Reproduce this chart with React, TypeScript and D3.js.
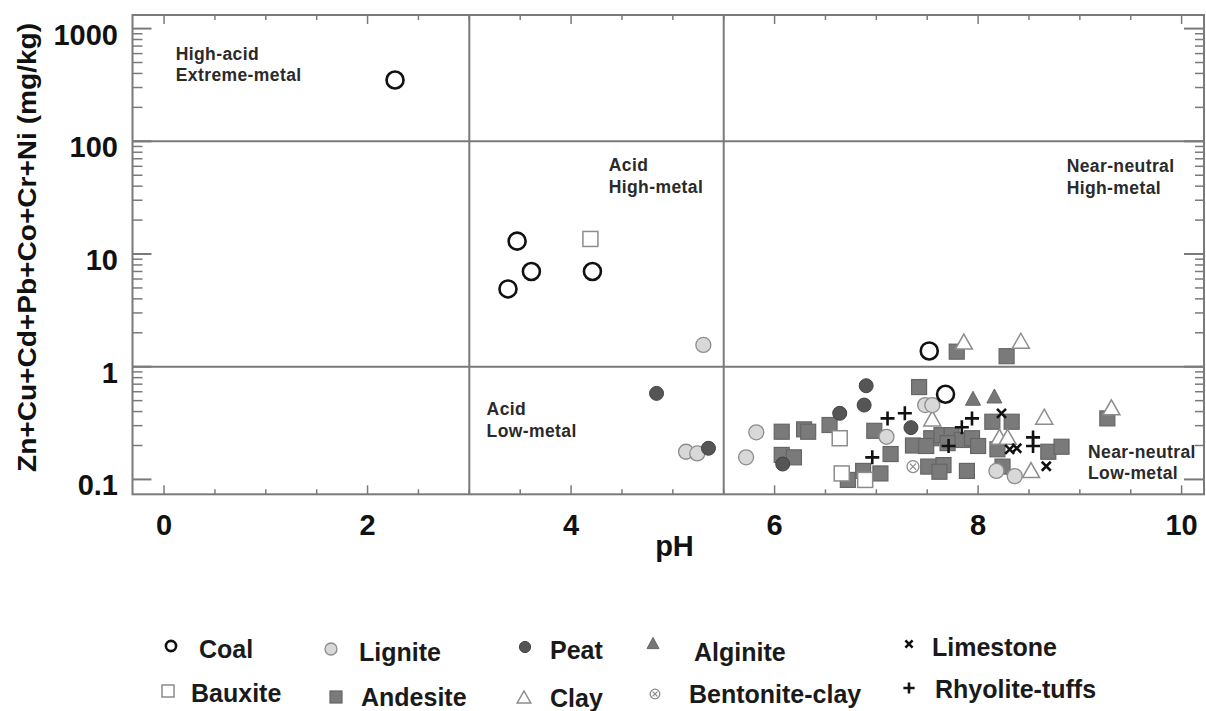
import React from "react";
import * as d3 from "d3";

// [pH, Zn+Cu+Cd+Pb+Co+Cr+Ni mg/kg]
const coal = [[2.27, 350], [3.47, 13.0], [3.61, 7.0], [3.38, 4.9], [4.21, 7.0], [7.52, 1.38], [7.68, 0.57]];
const bauxite = [[4.19, 13.6], [6.64, 0.232], [6.66, 0.113], [6.89, 0.099]];
const lignite = [
  [5.3, 1.56], [5.13, 0.176], [5.24, 0.17], [5.82, 0.262], [5.72, 0.157], [7.1, 0.239],
  [7.48, 0.457], [7.55, 0.457], [8.18, 0.119], [8.36, 0.107],
];
const peat = [[4.84, 0.58], [5.35, 0.189], [6.08, 0.137], [6.64, 0.386], [6.88, 0.457], [6.9, 0.678], [7.34, 0.288]];
const alginite = [[7.95, 0.525], [8.16, 0.55]];
const limestone = [[8.23, 0.386], [8.31, 0.185], [8.38, 0.189], [8.67, 0.131]];
const rhyolite = [
  [6.96, 0.157], [7.11, 0.348], [7.28, 0.386], [7.71, 0.198], [7.84, 0.29], [7.94, 0.348],
  [8.54, 0.236], [8.54, 0.198],
];
const bentonite = [[7.36, 0.13]];
const clay = [
  [7.86, 1.67], [8.42, 1.7], [7.55, 0.348], [8.65, 0.36], [8.21, 0.239], [8.29, 0.239],
  [8.52, 0.121], [9.31, 0.436],
];
const andesite = [
  [6.07, 0.265], [6.29, 0.278], [6.33, 0.265], [6.07, 0.165], [6.19, 0.157], [6.54, 0.304],
  [6.98, 0.27], [7.14, 0.168], [7.36, 0.2], [6.72, 0.099], [6.87, 0.119], [7.04, 0.113],
  [7.42, 0.66], [7.79, 1.36], [8.28, 1.24], [8.14, 0.325], [8.33, 0.325], [7.54, 0.232],
  [7.64, 0.247], [7.74, 0.247], [7.84, 0.224], [7.94, 0.232], [8.0, 0.198], [7.49, 0.198],
  [7.7, 0.21], [8.19, 0.185], [8.69, 0.176], [8.82, 0.195], [7.51, 0.13], [7.66, 0.134],
  [7.62, 0.117], [7.89, 0.119], [8.24, 0.13], [9.27, 0.348],
];

const quadrantLabels = [
  { lines: ["High-acid", "Extreme-metal"], ph: 0.115, v: 527 },
  { lines: ["Acid", "High-metal"], ph: 4.37, v: 54 },
  { lines: ["Acid", "Low-metal"], ph: 3.17, v: 0.37 },
  { lines: ["Near-neutral", "High-metal"], ph: 8.87, v: 53 },
  { lines: ["Near-neutral", "Low-metal"], ph: 9.08, v: 0.155 },
];

const xTicks = d3.range(0, 10.01, 0.5);
const xLabels = [0, 2, 4, 6, 8, 10];
const yLabels = [0.1, 1, 10, 100, 1000];

// drawing order (back to front)
const series = [
  { kind: "Andesite", data: andesite },
  { kind: "Bauxite", data: bauxite },
  { kind: "Clay", data: clay },
  { kind: "Lignite", data: lignite },
  { kind: "Peat", data: peat },
  { kind: "Alginite", data: alginite },
  { kind: "Bentonite-clay", data: bentonite },
  { kind: "Coal", data: coal },
  { kind: "Limestone", data: limestone },
  { kind: "Rhyolite-tuffs", data: rhyolite },
];

const legendRows = [
  ["Coal", "Lignite", "Peat", "Alginite", "Limestone"],
  ["Bauxite", "Andesite", "Clay", "Bentonite-clay", "Rhyolite-tuffs"],
];
// legend layout: marker x/y, text x/baseline
const legendPos = {
  Coal: [171, 646, 199, 658], Lignite: [331, 649, 359, 661], Peat: [525, 647, 550, 659],
  Alginite: [653, 643, 694, 661], Limestone: [909, 644, 932, 656],
  Bauxite: [168, 691, 191, 702], Andesite: [336, 697, 361, 706], Clay: [524, 697, 550, 707],
  "Bentonite-clay": [655, 694, 689, 703], "Rhyolite-tuffs": [909, 688, 935, 698],
};

const FONT = "'Liberation Sans', Arial, Helvetica, sans-serif";
const AX = "#7a7a7a";

function Marker({ kind, x, y, s = 1 }) {
  const g = "#8c8c8c";
  switch (kind) {
    case "Coal":
      return <circle cx={x} cy={y} r={8.5 * s} fill="#fff" stroke="#111" strokeWidth={2.6} />;
    case "Lignite":
      return <circle cx={x} cy={y} r={7.5 * s} fill="#d8d8d8" stroke={g} strokeWidth={1.3} />;
    case "Peat":
      return <circle cx={x} cy={y} r={7 * s} fill="#555" stroke="#444" strokeWidth={1} />;
    case "Alginite": {
      const w = 7.5 * s, h = 14 * s;
      return <path d={`M${x},${y - h / 2}L${x + w},${y + h / 2}L${x - w},${y + h / 2}Z`} fill="#777" stroke="#666" strokeWidth={1} />;
    }
    case "Clay": {
      const w = 8.5 * s, h = 15 * s;
      return <path d={`M${x},${y - h / 2}L${x + w},${y + h / 2}L${x - w},${y + h / 2}Z`} fill="#fff" stroke={g} strokeWidth={1.5} />;
    }
    case "Bauxite":
      return <rect x={x - 7.5 * s} y={y - 7.5 * s} width={15 * s} height={15 * s} fill="#fff" stroke={g} strokeWidth={1.5} />;
    case "Andesite":
      return <rect x={x - 7.5 * s} y={y - 7.5 * s} width={15 * s} height={15 * s} fill="#7a7a7a" stroke="#666" strokeWidth={1.2} />;
    case "Limestone": {
      const a = 4.5 * s;
      return <path d={`M${x - a},${y - a}L${x + a},${y + a}M${x - a},${y + a}L${x + a},${y - a}`} stroke="#111" strokeWidth={2.6} />;
    }
    case "Rhyolite-tuffs": {
      const a = 7 * s;
      return <path d={`M${x - a},${y}L${x + a},${y}M${x},${y - a}L${x},${y + a}`} stroke="#111" strokeWidth={2.6} />;
    }
    case "Bentonite-clay": {
      const r = 6 * s, a = 3 * s;
      return (
        <g stroke={g} strokeWidth={1.3} fill="#fff">
          <circle cx={x} cy={y} r={r} />
          <path d={`M${x - a},${y - a}L${x + a},${y + a}M${x - a},${y + a}L${x + a},${y - a}`} />
        </g>
      );
    }
    default:
      return null;
  }
}

export default function App() {
  const x = d3.scaleLinear().domain([-0.31, 10.22]).range([132.5, 1204]);
  const y = d3.scaleLog().domain([0.0738, 1320]).range([494.3, 15]);
  const [x0, x1] = x.range();
  const [y0, y1] = y.range();

  const minorY = [];
  for (let e = -1; e < 3; e++) for (let k = 2; k <= 9; k++) minorY.push(k * Math.pow(10, e));

  return (
    <svg width={1206} height={711} style={{ position: "absolute", left: 0, top: 0, display: "block" }} fontFamily={FONT}>
      <rect width={1206} height={711} fill="#fff" />

      {/* quadrant dividers */}
      <g stroke={AX} strokeWidth={2}>
        {[3, 5.5].map((p) => <line key={p} x1={x(p)} x2={x(p)} y1={y1} y2={y0} />)}
        {[1, 100].map((v) => <line key={v} x1={x0} x2={x1} y1={y(v)} y2={y(v)} />)}
      </g>

      {/* frame */}
      <rect x={x0} y={y1} width={x1 - x0} height={y0 - y1} fill="none" stroke={AX} strokeWidth={2} />

      {/* ticks */}
      <g stroke={AX} strokeWidth={1.5}>
        {xTicks.map((t) => {
          const len = t % 2 === 0 ? 9 : 5;
          return (
            <g key={t}>
              <line x1={x(t)} x2={x(t)} y1={y0} y2={y0 - len} />
              <line x1={x(t)} x2={x(t)} y1={y1} y2={y1 + len} />
            </g>
          );
        })}
        {yLabels.map((v) => (
          <g key={v}>
            <line x1={x0} x2={x0 + 19} y1={y(v)} y2={y(v)} strokeWidth={2} />
            <line x1={x1} x2={x1 - 20} y1={y(v)} y2={y(v)} strokeWidth={2} />
          </g>
        ))}
        {minorY.map((v) => (
          <g key={v}>
            <line x1={x0} x2={x0 + 10} y1={y(v)} y2={y(v)} />
            <line x1={x1} x2={x1 - 9} y1={y(v)} y2={y(v)} />
          </g>
        ))}
      </g>

      {/* tick labels */}
      <g fontSize={29} fontWeight="bold" fill="#111">
        {xLabels.map((t) => (
          <text key={t} x={x(t)} y={535} textAnchor="middle">{t}</text>
        ))}
        {yLabels.map((v) => (
          <text key={v} x={118} y={y(v) + 16} textAnchor="end">{v}</text>
        ))}
      </g>

      <text x={674.5} y={556} fontSize={29} fontWeight="bold" textAnchor="middle" fill="#111">pH</text>
      <text
        transform="translate(36,247.5) rotate(-90)"
        fontSize={25}
        fontWeight="bold"
        textAnchor="middle"
        fill="#111"
        textLength={449}
        lengthAdjust="spacingAndGlyphs"
      >
        Zn+Cu+Cd+Pb+Co+Cr+Ni (mg/kg)
      </text>

      {/* quadrant labels */}
      <g fontSize={17.5} fontWeight="bold" fill="#2a2a2a" letterSpacing={0.4}>
        {quadrantLabels.map((q, i) => (
          <text key={i} x={x(q.ph)} y={y(q.v)}>
            {q.lines.map((l, j) => (
              <tspan key={j} x={x(q.ph)} dy={j === 0 ? 0 : 21.5}>{l}</tspan>
            ))}
          </text>
        ))}
      </g>

      {/* data */}
      {series.map((s) => (
        <g key={s.kind}>
          {s.data.map((d, i) => (
            <Marker key={i} kind={s.kind} x={x(d[0])} y={y(d[1])} />
          ))}
        </g>
      ))}

      {/* legend */}
      <g fontSize={25} fontWeight="bold" fill="#1a1a1a">
        {legendRows.flat().map((name) => {
          const [mx, my, tx, ty] = legendPos[name];
          return (
            <g key={name}>
              <Marker kind={name} x={mx} y={my} s={name === "Coal" ? 0.6 : 0.8} />
              <text x={tx} y={ty}>{name}</text>
            </g>
          );
        })}
      </g>
    </svg>
  );
}
